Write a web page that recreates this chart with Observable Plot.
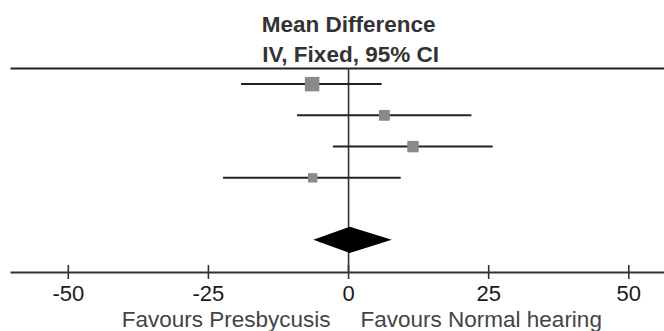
<!DOCTYPE html>
<html>
<head>
<meta charset="utf-8">
<script src="https://cdn.jsdelivr.net/npm/d3@7"></script>
<script src="https://cdn.jsdelivr.net/npm/@observablehq/plot@0.6"></script>
<style>
  html, body { margin: 0; padding: 0; background: #fff; }
</style>
</head>
<body>
<div id="chart"></div>
<script>
// ---- data ----
const rowIndex = [0, 1, 2, 3];                 // study rows, top to bottom
const meanDiff = [-6.5, 6.4, 11.5, -6.4];      // point estimates
const ciLower  = [-19.1, -9.1, -2.7, -22.3];   // 95% CI lower
const ciUpper  = [6.0, 22.0, 25.8, 9.4];       // 95% CI upper
const weights  = [38.3, 21.4, 24.0, 16.3];     // study weight (%)

const pooledRow = 5;
const pooledMD = 0.3;
const pooledLower = -6.2;
const pooledUpper = 7.8;

const xTicks = [-50, -25, 0, 25, 50];
const titleLines = ["Mean Difference", "IV, Fixed, 95% CI"];
const favourLeft = "Favours Presbycusis";
const favourRight = "Favours Normal hearing";

// ---- derived tables ----
const rows = rowIndex.map((r, i) => ({row: r, md: meanDiff[i], lo: ciLower[i], hi: ciUpper[i], w: weights[i]}));
const diamondHalf = 0.42;
const diamond = [
  {x: pooledLower, y1: pooledRow, y2: pooledRow},
  {x: pooledMD, y1: pooledRow - diamondHalf, y2: pooledRow + diamondHalf},
  {x: pooledUpper, y1: pooledRow, y2: pooledRow}
];

const font = "'Liberation Sans', Arial, Helvetica, sans-serif";

const chart = Plot.plot({
  width: 664,
  height: 331,
  marginLeft: 11,
  marginRight: 0,
  marginTop: 68,
  marginBottom: 59,
  style: {fontFamily: font, fontSize: "22px", background: "#fff", overflow: "visible"},
  x: {domain: [-50, 50], range: [67.8, 628.3]},
  y: {domain: [-0.5, 6.03], range: [68, 272], axis: null},
  r: {type: "sqrt", domain: [0, 38.3], range: [0, 8.15]},
  marks: [
    Plot.frame({anchor: "top", stroke: "#222", strokeWidth: 2}),
    Plot.frame({anchor: "bottom", stroke: "#333", strokeWidth: 2}),
    Plot.ruleX([0], {stroke: "#333", strokeWidth: 1.6}),
    Plot.axisX({ticks: xTicks, tickSize: 14, dy: -7, tickFormat: () => "", label: null, stroke: "#333", strokeWidth: 1.6}),
    Plot.axisX({ticks: xTicks, tickSize: 0, tickPadding: 13, tickFormat: d => String(d), label: null, fontSize: 22, fill: "#1a1a1a"}),
    Plot.ruleY(rows, {y: "row", x1: "lo", x2: "hi", stroke: "#222", strokeWidth: 2}),
    Plot.dot(rows, {x: "md", y: "row", r: "w", symbol: "square", fill: "#8a8a8a", stroke: null}),
    Plot.areaY(diamond, {x: "x", y1: "y1", y2: "y2", fill: "#000"}),
    Plot.text([titleLines[0]], {x: () => 0, text: d => d, frameAnchor: "top", lineAnchor: "bottom", dy: -36.3, fontWeight: "bold", fontSize: 22.5, fill: "#333"}),
    Plot.text([titleLines[1]], {x: () => 0, text: d => d, frameAnchor: "top", lineAnchor: "bottom", dy: -6.3, dx: 2, fontWeight: "bold", fontSize: 22.5, fill: "#333"}),
    Plot.text([favourLeft], {x: () => 0, text: d => d, frameAnchor: "bottom", lineAnchor: "bottom", dy: 54, dx: -18, textAnchor: "end", fontSize: 22.5, fill: "#444"}),
    Plot.text([favourRight], {x: () => 0, text: d => d, frameAnchor: "bottom", lineAnchor: "bottom", dy: 54, dx: 12, textAnchor: "start", fontSize: 22.5, fill: "#444"})
  ]
});

document.getElementById("chart").appendChild(chart);
</script>
</body>
</html>
